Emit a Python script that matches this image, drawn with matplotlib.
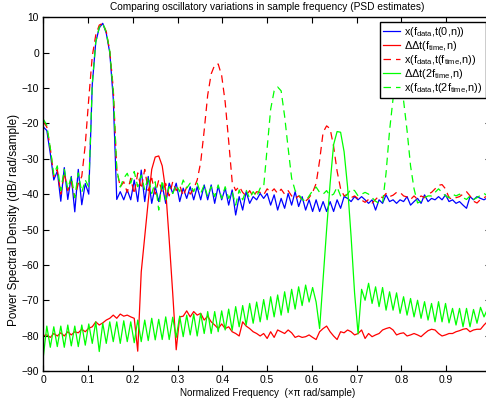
import numpy as np
import matplotlib
matplotlib.use('Agg')
import matplotlib.pyplot as plt

plt.rcParams['font.family'] = ['Liberation Sans', 'DejaVu Sans']
plt.rcParams['mathtext.default'] = 'regular'

# normalized frequency grid (129 bins, 0..1 x pi rad/sample)
freq = np.linspace(0, 1, 129)

# PSD estimates in dB/(rad/sample)
psd_data = [-21, -22, -28.5, -36, -33.5, -42, -32.5, -41.5, -35, -45,
            -33, -43, -37, -40, -9, 3, 7, 8.3, 5.5, 0,
            -13, -41.5, -39.3, -41.6, -38.8, -41.6, -36, -42.1, -33.2, -42.1,
            -35, -42.6, -37.9, -42.1, -37.4, -42.6, -36.9, -39.8, -36.9, -42.1,
            -38.3, -41.2, -37.9, -41.6, -37.9, -41.6, -37.4, -41.6, -37.4, -42.6,
            -37.7, -41.6, -38.3, -43.1, -38.8, -45.9, -40.7, -44.5, -39.3, -42.6,
            -40.7, -41.6, -39.8, -41.2, -39.8, -43.1, -40.2, -44.5, -41.2, -44.0,
            -39.8, -43.1, -39.3, -43.5, -40.7, -44.5, -41.6, -44.9, -41.6, -44.9,
            -42.1, -44.9, -42.1, -44.9, -41.6, -44.0, -40.7, -41.2, -42.1, -40.7,
            -41.6, -40.7, -41.6, -42.6, -41.6, -44.5, -41.6, -42.6, -40.2, -42.1,
            -41.6, -42.6, -41.6, -42.1, -40.7, -43.1, -42.1, -41.2, -42.6, -40.2,
            -42.1, -41.2, -41.6, -40.7, -41.6, -40.2, -42.1, -41.6, -42.6, -42.1,
            -43.1, -44.0, -40.7, -41.6, -40.7, -41.2, -41.6, -41.0, -41.5]

dd_time = [-80, -79.8, -80.5, -79.4, -80.1, -79.2, -80.1, -78.9, -79.8, -78.9,
           -79.2, -78.2, -78.9, -77.9, -77.5, -76.1, -77.0, -76.4, -75.6, -75.1,
           -74.2, -75.1, -73.9, -74.5, -74.2, -74.7, -75.1, -84.4, -62, -52,
           -42, -33, -29.5, -29.2, -32, -39, -53, -68, -84, -74.7,
           -74.5, -73, -74.7, -73.2, -74.2, -73.7, -75.6, -74.5, -76.1, -77,
           -78, -76.7, -78, -77.5, -78.9, -79.4, -80.1, -76.1, -77.3, -78,
           -78.9, -79.4, -80.1, -79.4, -80.8, -78.9, -80.5, -78.4, -78.9, -79.4,
           -78.4, -79.2, -80.5, -80.1, -80.5, -80.3, -79.8, -80.5, -81.1, -78.9,
           -78, -77.3, -78.9, -80.1, -81.1, -78.9, -79.2, -78.4, -78.9, -79.8,
           -79.4, -78.4, -80.8, -79.4, -80.3, -79.8, -79.4, -78.4, -78, -77.7,
           -78.4, -79.8, -79.4, -79.2, -80.1, -79.8, -79.4, -79.8, -80.3, -79.4,
           -78.6, -78.2, -78.4, -79.4, -80.1, -79.8, -79.4, -79.4, -78.9, -78.6,
           -78.2, -78, -78.9, -78.4, -78.2, -78.2, -77, -76, -76.5]

psd_time = [-19.5, -21, -27, -35, -33, -40, -34, -39, -36.5, -41,
            -37, -35, -26, -13, -1, 5, 7.8, 8.3, 6, 0.5,
            -10, -33, -38, -36.5, -39.5, -35.5, -40, -34, -38.5, -33,
            -39, -35.5, -40, -36, -39.5, -37, -40.5, -36.5, -39, -37.5,
            -40.5, -38, -40, -38.5, -36, -31, -22, -12, -6, -3.5,
            -3.2, -6.5, -14, -25, -36.5, -39, -37.8, -39.5, -40.5, -39,
            -40.7, -39.3, -39.5, -40.2, -38.5, -39.5, -38.5, -39.8, -38.6, -40,
            -39, -40.5, -41.3, -40.5, -41.5, -42, -41, -39.5, -37, -30.5,
            -22.5, -20.7, -21.5, -26.5, -33.5, -38.5, -40.5, -40, -41, -40.5,
            -41.3, -41.7, -42.3, -41.5, -42.5, -41.5, -40.5, -41, -39.8, -40.7,
            -40.3, -39.5, -39.5, -40.5, -40.8, -41.5, -40.5, -41.5, -40.5, -41,
            -40, -39.5, -38.5, -37.5, -37.3, -38.5, -41, -41.5, -41, -40.7,
            -40, -39.3, -40.5, -42, -42.5, -41.5, -41, -40.5, -41]

dd_2time = [-86, -77.3, -83.3, -77.5, -83.1, -77.3, -83.3, -77, -82.9, -77.3,
            -83.1, -77, -82.7, -76.7, -82.2, -76.1, -84.5, -76.5, -82.2, -76.1,
            -81.7, -76.1, -82.2, -75.8, -81.7, -76.1, -82, -75.6, -81.7, -75.6,
            -81.4, -75.1, -81.2, -75.4, -81.1, -74.7, -81.1, -74.8, -80.5, -74.5,
            -80.3, -74.2, -79.8, -73.9, -80.1, -73.7, -79.4, -73.2, -79.4, -73.2,
            -78.9, -73, -78.4, -72.5, -78.5, -71.8, -77.5, -71.5, -77, -70.9,
            -76.5, -70.5, -76.1, -69.8, -75.5, -69, -74.7, -68.5, -74.2, -67.6,
            -73.5, -66.9, -72.5, -66.2, -71.5, -65.7, -70.5, -66.4, -70.5, -78,
            -64, -50, -37, -26, -22.3, -22.5, -28, -38, -52, -68,
            -79.5, -66.9, -70, -65.2, -70.9, -66.2, -71.8, -66.4, -72.8, -67.6,
            -72.8, -67.9, -73.7, -69, -74.2, -69.5, -74.7, -70, -75.1, -70.4,
            -75.6, -70.9, -76.1, -70.4, -76.1, -70.9, -76.4, -72.3, -77, -72.3,
            -77.5, -72.3, -77.5, -72.6, -76.5, -72, -74.7, -72.5, -76]

psd_2time = [-18.8, -20.5, -27, -34.5, -32, -39, -33, -38.5, -35, -41,
             -34, -39.5, -36, -38, -9, 3, 7.2, 8.3, 5.8, 0.5,
             -11, -33, -38, -35.5, -34.1, -36.9, -33.6, -37.9, -34.6, -38.8,
             -35, -39.8, -36.5, -44.5, -36, -41.6, -37.9, -39.8, -37.4, -39.3,
             -36, -38.3, -36.9, -39.3, -36.9, -39.8, -37.4, -40.7, -37.9, -40.7,
             -37.4, -41.2, -37.9, -41.2, -39.3, -43.1, -38.8, -41.6, -38.8, -41.2,
             -39.3, -40.7, -38.3, -38, -27, -16, -10.8, -9.7, -10.8, -18,
             -27, -35.5, -39, -40, -41.5, -42, -40.5, -39, -38, -39.5,
             -40, -39, -40.5, -40, -38, -40.5, -41, -40, -38.5, -39,
             -40.5, -40, -39.5, -40, -41, -42, -42.6, -42.5, -34, -22,
             -13, -9, -9.5, -13.5, -22, -32, -38.5, -42.5, -42, -41,
             -40.5, -40.5, -39.5, -38.5, -39.5, -40.5, -41, -40, -40.5, -40,
             -41, -41.5, -40.5, -41.5, -41, -40.3, -39.8, -40.5, -41]

labels = [r'x(f$_{data}$,t(0,n))',
          r'ΔΔt(f$_{time}$,n)',
          r'x(f$_{data}$,t(f$_{time}$,n))',
          r'ΔΔt(2f$_{time}$,n)',
          r'x(f$_{data}$,t(2f$_{time}$,n))']

W, H = 486, 403
fig = plt.figure(figsize=(W / 100, H / 100), dpi=100)
# axes run slightly past the right edge of the canvas
ax = fig.add_axes([43.3 / W, 1 - 371 / H, 447.7 / W, 353.7 / H])

lw = 0.9
ax.plot(freq, psd_data, color='b', lw=lw, label=labels[0])
ax.plot(freq, dd_time, color='r', lw=lw, label=labels[1])
ax.plot(freq, psd_time, color='r', lw=lw, ls=(0, (6, 4)), label=labels[2])
ax.plot(freq, dd_2time, color=(0, 1, 0), lw=lw, label=labels[3])
ax.plot(freq, psd_2time, color=(0, 1, 0), lw=lw, ls=(0, (6, 4)), label=labels[4])

ax.set_xlim(0, 1)
ax.set_ylim(-90, 10)
ax.set_xticks(np.arange(0, 1.0, 0.1))
ax.set_xticklabels(['0', '0.1', '0.2', '0.3', '0.4', '0.5', '0.6', '0.7', '0.8', '0.9'])
ax.set_yticks(np.arange(-90, 11, 10))
ax.tick_params(direction='in', length=4, width=0.8, labelsize=7.4,
               top=True, right=True, pad=3)
for s in ax.spines.values():
    s.set_linewidth(1.0)

ax.set_title('Comparing oscillatory variations in sample frequency (PSD estimates)',
             fontsize=7.3, pad=5)
ax.set_xlabel('Normalized Frequency  (×π rad/sample)', fontsize=7.1, labelpad=2)
ax.set_ylabel('Power Spectral Density (dB/ rad/sample)', fontsize=8.5)
ax.yaxis.set_label_coords(-0.052, (371 - 220) / 353.7)

leg = ax.legend(loc='upper left', bbox_to_anchor=(380 / W, 1 - 21.5 / H),
                bbox_transform=fig.transFigure, borderaxespad=0, fontsize=7.8,
                frameon=True, fancybox=False, edgecolor='black', framealpha=1,
                handlelength=1.5, handletextpad=0.45, labelspacing=0.0,
                borderpad=0.3)
leg.get_frame().set_linewidth(1.0)

fig.savefig('out.png', dpi=100)
